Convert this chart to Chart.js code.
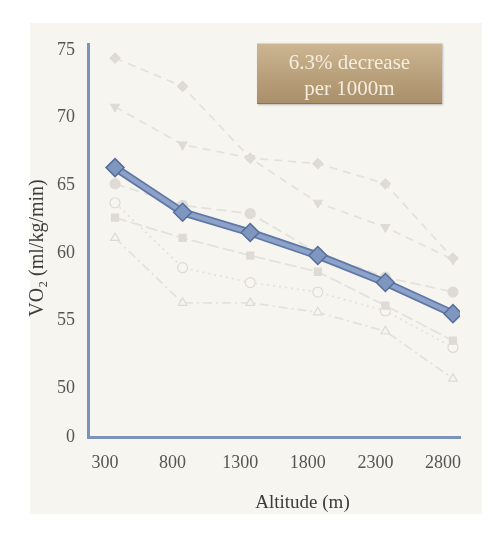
<!DOCTYPE html>
<html>
<head>
<meta charset="utf-8">
<script src="https://cdn.jsdelivr.net/npm/chart.js@4"></script>
<style>
  html, body { margin: 0; padding: 0; background: #ffffff; }
  #wrap { position: relative; width: 500px; height: 534px; }
  #panel { position: absolute; left: 30px; top: 23px; width: 452px; height: 491px; background: #f7f5f0; }
  #chart { position: absolute; left: 0; top: 0; }
  #note {
    position: absolute; left: 257px; top: 43px; width: 185px; height: 61px;
    box-sizing: border-box;
    background: linear-gradient(#ccb592, #a98f69);
    border-top: 1px solid #e3d5bb; border-bottom: 1px solid #8d7552;
    box-shadow: 1px 1px 2px rgba(0,0,0,0.25);
    color: #f5eddd; font-family: "Liberation Serif", serif; font-size: 21px;
    line-height: 26px; text-align: center; padding-top: 5px;
  }
</style>
</head>
<body>
<div id="wrap">
  <div id="panel"></div>
  <canvas id="chart" width="500" height="534"></canvas>
  <div id="note">6.3% decrease<br>per 1000m</div>
</div>
<script>
// ---- data ----
const altitudes = [300, 800, 1300, 1800, 2300, 2800];
const vo2Mean = [66.3, 63.0, 61.5, 59.8, 57.8, 55.5];
// faded background study curves
const bgDiamond = [74.4, 72.3, 67.0, 66.6, 65.1, 59.6];
const bgTriangleDown = [70.8, 68.0, 67.0, 63.7, 61.9, 59.5];
const bgCircle = [65.1, 63.5, 62.9, 60.0, 58.2, 57.1];
const bgSquare = [62.6, 61.1, 59.8, 58.6, 56.1, 53.5];
const bgOpenCircle = [63.7, 58.9, 57.8, 57.1, 55.7, 53.0];
const bgOpenTriangle = [61.1, 56.3, 56.3, 55.6, 54.2, 50.7];
// y axis is broken: the "0" label sits just below 50
const yBreakValue = 46.38;
const yTickValues = [yBreakValue, 50, 55, 60, 65, 70, 75];
const yTickLabels = ['0', '50', '55', '60', '65', '70', '75'];
const xTickLabels = ['300', '800', '1300', '1800', '2300', '2800'];

const pts = arr => altitudes.map((a, i) => ({x: a, y: arr[i]}));
const gray = '#e4e2dd';
const grayMark = '#dedbd6';

function bg(arr, style, opts) {
  return Object.assign({
    data: pts(arr), borderColor: gray, borderWidth: 1.8, borderDash: [8, 6],
    pointStyle: style, pointRadius: 5, pointBackgroundColor: grayMark,
    pointBorderColor: grayMark, pointBorderWidth: 1.2, tension: 0
  }, opts || {});
}

const serif = '"Liberation Serif", "Times New Roman", serif';

new Chart(document.getElementById('chart'), {
  type: 'line',
  data: {
    datasets: [
      { data: pts(vo2Mean), borderColor: '#8da2c9', borderWidth: 4.5,
        pointStyle: 'rectRot', pointRadius: 9, pointBackgroundColor: '#7f96bf',
        pointBorderColor: '#566e9b', pointBorderWidth: 1.5, tension: 0 },
      { data: pts(vo2Mean), borderColor: '#5f77a4', borderWidth: 8,
        pointRadius: 0, tension: 0 },
      bg(bgDiamond, 'rectRot'),
      bg(bgTriangleDown, 'triangle', {pointRotation: 180}),
      bg(bgCircle, 'circle', {borderDash: [10, 5]}),
      bg(bgSquare, 'rect', {borderDash: [12, 4]}),
      bg(bgOpenCircle, 'circle', {borderDash: [2, 4], pointBackgroundColor: '#f7f5f0'}),
      bg(bgOpenTriangle, 'triangle', {borderDash: [9, 4, 2, 4], pointBackgroundColor: '#f7f5f0'})
    ]
  },
  options: {
    responsive: false,
    animation: false,
    layout: { padding: { left: 26, top: 44, right: 40, bottom: 20 } },
    plugins: { legend: { display: false }, tooltip: { enabled: false } },
    scales: {
      x: {
        type: 'linear', min: 100, max: 2852,
        afterBuildTicks: s => { s.ticks = altitudes.map(v => ({value: v})); },
        afterFit: s => { s.height = 77; },
        ticks: { callback: (v, i) => xTickLabels[i], padding: 15, labelOffset: -10,
                 color: '#555555', font: { family: serif, size: 18 }, maxRotation: 0, autoSkip: false },
        grid: { display: false, drawTicks: false },
        border: { display: true, color: '#7b93bb', width: 3 },
        title: { display: true, text: '            Altitude (m)', color: '#3c3c3c',
                 font: { family: serif, size: 19 }, padding: { top: 0, bottom: 0 } }
      },
      y: {
        type: 'linear', min: yBreakValue, max: 75.44,
        afterBuildTicks: s => { s.ticks = yTickValues.map(v => ({value: v})); },
        afterFit: s => { s.width = 62; },
        ticks: { callback: (v, i) => yTickLabels[i], padding: 13,
                 color: '#555555', font: { family: serif, size: 18 }, autoSkip: false },
        grid: { display: false, drawTicks: false },
        border: { display: true, color: '#7b93bb', width: 3 },
        title: { display: true, text: 'VO\u2082 (ml/kg/min)   ', color: '#3c3c3c',
                 font: { family: serif, size: 20 }, padding: { top: 0, bottom: 0 } }
      }
    }
  }
});
</script>
</body>
</html>
